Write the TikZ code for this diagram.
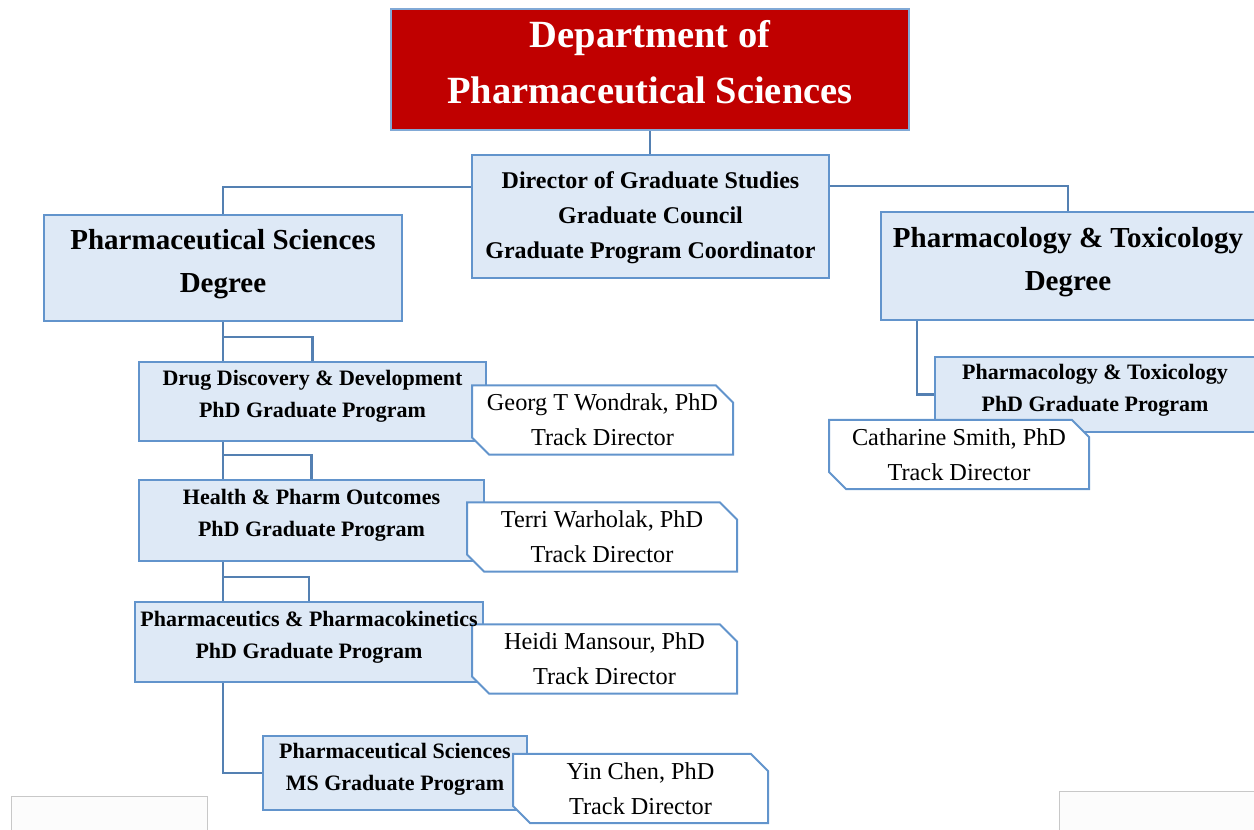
\documentclass[tikz,border=0pt]{standalone}
\usepackage{fontspec}
\setmainfont{Liberation Serif}
\usetikzlibrary{shapes.misc,calc}
\definecolor{deptred}{RGB}{192,0,0}
\definecolor{boxline}{RGB}{98,148,204}
\definecolor{linkline}{RGB}{84,128,178}
\definecolor{boxfill}{RGB}{222,233,246}
\definecolor{ghost}{RGB}{200,200,200}
\tikzset{
  box/.style={draw=boxline, line width=2pt, fill=boxfill, inner sep=0pt},
  deptbox/.style={draw=boxline!80!white, line width=2pt, fill=deptred, inner sep=0pt},
  notebox/.style={chamfered rectangle, chamfered rectangle corners={north east,south west},
    chamfered rectangle xsep=8.5pt, chamfered rectangle ysep=8.5pt,
    draw=boxline, line width=2pt, fill=white, inner sep=0pt, align=center,
    font=\fontsize{24.3}{35}\selectfont},
  depttext/.style={text=white, inner sep=0pt, align=center, font=\fontsize{38.5}{56}\selectfont\bfseries},
  dirtext/.style={inner sep=0pt, align=center, font=\fontsize{24}{35}\selectfont\bfseries},
  degtext/.style={inner sep=0pt, align=center, font=\fontsize{29}{43}\selectfont\bfseries},
  progtext/.style={inner sep=0pt, align=center, font=\fontsize{22}{32}\selectfont\bfseries},
  link/.style={draw=linkline, line width=2.2pt},
  ghostbox/.style={draw=ghost, line width=1pt, fill=white!99!black}
}
\begin{document}
\begin{tikzpicture}[x=1pt,y=-1pt]
\useasboundingbox (0,0) rectangle (1254,830);
% ghost boxes at the bottom
\path[ghostbox] (11,796) rectangle (207,834);
\path[ghostbox] (1059,791) rectangle (1258,834);

% box outlines (named nodes)
\node[deptbox, minimum width=518pt, minimum height=121pt] (dept) at (650,69.5) {};
\node[box, minimum width=357pt, minimum height=123pt] (dir) at (650.5,216.5) {};
\node[box, minimum width=358pt, minimum height=106pt] (psd) at (223,268) {};
\node[box, minimum width=374pt, minimum height=108pt] (ptd) at (1068,266) {};

\coordinate (c1) at ($(psd.south)+(0,15)$);
\coordinate (ptdleg) at ($(ptd.south west)+(37,0)$);
\coordinate (ddpos) at (312.5,401.5);
\coordinate (hepos) at (311.5,520.5);
\coordinate (pkpos) at (309,642);
\coordinate (mspos) at (395,773);
\coordinate (ptpos) at (1095,394.5);

% connectors (under the lower boxes)
\path[link] (dept.south) -- (dept.south |- dir.north);
\path[link] ([yshift=29.5pt]dir.west) -| (psd.north);
\path[link] ([yshift=30.5pt]dir.east) -| (ptd.north);

\path[link] (psd.south) -- (psd.south |- 0,362);
\path[link] (c1) -| (312.5,362);
\path[link] (psd.south |- 0,441) -- (psd.south |- 0,480);
\path[link] ($(psd.south |- 0,441)+(0,14)$) -| (311.5,480);
\path[link] (psd.south |- 0,561) -- (psd.south |- 0,602);
\path[link] ($(psd.south |- 0,561)+(0,16)$) -| (309,602);
\path[link] (psd.south |- 0,682) |- (mspos -| 263,0);
\path[link] (ptdleg) |- (ptpos -| 935,0);

% program boxes and notes
\node[box, minimum width=347pt, minimum height=79pt] (dd) at (ddpos) {};
\node[notebox, minimum width=261pt, minimum height=64pt] (georg) at (602.5,420)
  {Georg T Wondrak, PhD\\Track Director};
\node[box, minimum width=345pt, minimum height=81pt] (he) at (hepos) {};
\node[notebox, minimum width=270pt, minimum height=68pt] (terri) at (602,537)
  {Terri Warholak, PhD\\Track Director};
\node[box, minimum width=348pt, minimum height=80pt] (pk) at (pkpos) {};
\node[notebox, minimum width=265pt, minimum height=66pt] (heidi) at (604.5,659)
  {Heidi Mansour, PhD\\Track Director};
\node[box, minimum width=264pt, minimum height=74pt] (ms) at (mspos) {};
\node[notebox, minimum width=255pt, minimum height=67pt] (yin) at (640.5,788.5)
  {Yin Chen, PhD\\Track Director};
\node[box, minimum width=320pt, minimum height=75pt] (pt) at (ptpos) {};
\node[notebox, minimum width=260pt, minimum height=65pt] (cath) at (959,454.5)
  {Catharine Smith, PhD\\Track Director};

% texts
\node[depttext] (tdept) at ([yshift=7pt]dept.center) {Department of\\Pharmaceutical Sciences};
\node[dirtext] (tdir) at ([yshift=-1.5pt]dir.center)
  {Director of Graduate Studies\\Graduate Council\\Graduate Program Coordinator};
\node[degtext] (tpsd) at ([yshift=4pt]psd.center) {Pharmaceutical Sciences\\Degree};
\node[degtext] (tptd) at ([yshift=4pt]ptd.center) {Pharmacology \& Toxicology\\Degree};
\node[progtext] (tdd) at ([yshift=5pt]dd.center) {Drug Discovery \& Development\\PhD Graduate Program};
\node[progtext] (the) at ([yshift=5pt]he.center) {Health \& Pharm Outcomes\\PhD Graduate Program};
\node[progtext] (tpk) at ([yshift=5pt]pk.center) {Pharmaceutics \& Pharmacokinetics\\PhD Graduate Program};
\node[progtext] (tms) at ([yshift=4pt]ms.center) {Pharmaceutical Sciences\\MS Graduate Program};
\node[progtext] (tpt) at ([yshift=4.5pt]pt.center) {Pharmacology \& Toxicology\\PhD Graduate Program};
\end{tikzpicture}
\end{document}
